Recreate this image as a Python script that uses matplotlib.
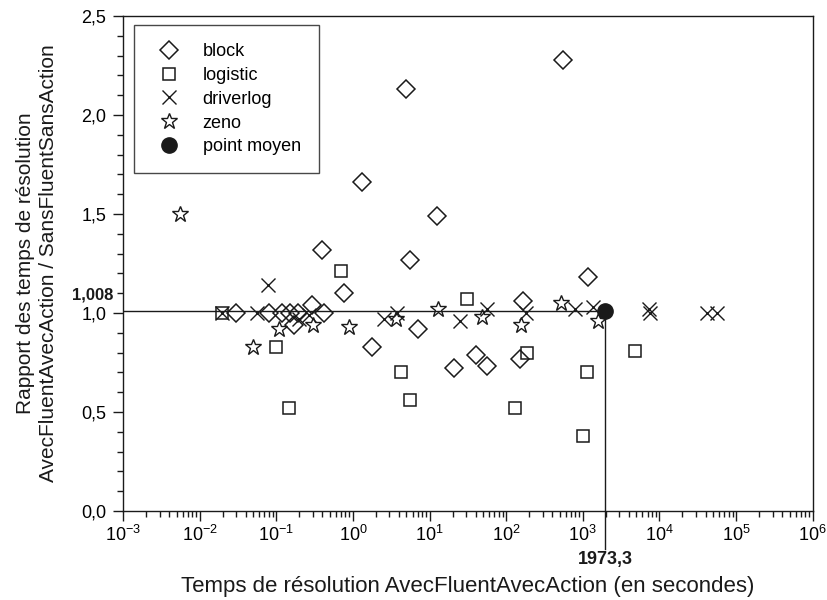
import numpy as np
import matplotlib
matplotlib.use("Agg")
import matplotlib.pyplot as plt
from matplotlib.ticker import MultipleLocator, FixedLocator, NullFormatter

plt.rcParams['font.family'] = ['Liberation Sans', 'DejaVu Sans']
narrow = ['Liberation Sans Narrow', 'Liberation Sans', 'DejaVu Sans']

# données
block_x = [0.030, 0.081, 0.12, 0.15, 0.19, 0.29, 0.42, 0.17, 0.77, 0.40, 1.33, 1.75,
           5.0, 5.5, 7.0, 12.7, 20.6, 41, 57, 150, 164, 548, 1160]
block_y = [1.0, 1.0, 1.0, 1.0, 1.0, 1.04, 1.0, 0.94, 1.10, 1.32, 1.66, 0.83,
           2.13, 1.27, 0.92, 1.49, 0.72, 0.79, 0.73, 0.77, 1.06, 2.28, 1.18]

logistic_x = [0.0197, 0.10, 0.148, 0.71, 4.2, 5.6, 31, 129, 185, 1000, 1130, 4790]
logistic_y = [1.0, 0.83, 0.52, 1.21, 0.70, 0.56, 1.07, 0.52, 0.80, 0.38, 0.70, 0.81]

driverlog_x = [0.0197, 0.056, 0.079, 0.20, 0.27, 2.58, 3.8, 25, 57, 180, 785, 1350,
               7300, 7500, 41800, 56500]
driverlog_y = [1.0, 1.0, 1.14, 0.97, 0.99, 0.97, 1.0, 0.96, 1.02, 1.0, 1.02, 1.03,
               1.02, 1.0, 1.0, 1.0]

zeno_x = [0.0056, 0.049, 0.109, 0.30, 0.90, 3.7, 13, 49, 155, 515, 1570]
zeno_y = [1.5, 0.83, 0.92, 0.94, 0.93, 0.97, 1.02, 0.98, 0.94, 1.05, 0.96]

moyen_x = 1973.3
moyen_y = 1.008

x_ticks = [1e-3, 1e-2, 1e-1, 1e0, 1e1, 1e2, 1e3, 1e4, 1e5, 1e6]
y_ticks = [0.0, 0.5, 1.0, 1.5, 2.0, 2.5]

col = '#1a1a1a'

fig = plt.figure(figsize=(8.27, 6.0), dpi=100)
ax = fig.add_axes([0.1487, 0.1483, 0.834, 0.825])

# lignes du point moyen (la verticale descend sous l'axe jusqu'à l'étiquette)
ax.plot([1e-3, moyen_x], [moyen_y, moyen_y], color=col, lw=1.0, zorder=2)
ax.plot([moyen_x, moyen_x], [moyen_y, -0.19], color=col, lw=1.0, zorder=2, clip_on=False)

ax.plot(block_x, block_y, ls='none', marker='D', ms=9, mfc='none', mec=col, mew=1.1, label='block', zorder=3)
ax.plot(logistic_x, logistic_y, ls='none', marker='s', ms=9, mfc='none', mec=col, mew=1.1, label='logistic', zorder=3)
ax.plot(driverlog_x, driverlog_y, ls='none', marker='x', ms=10, mec=col, mew=1.0, label='driverlog', zorder=3)
ax.plot(zeno_x, zeno_y, ls='none', marker='*', ms=12, mfc='none', mec=col, mew=1.0, label='zeno', zorder=3)
ax.plot([moyen_x], [moyen_y], ls='none', marker='o', ms=11, mfc=col, mec=col, label='point moyen', zorder=4)

ax.set_xscale('log')
ax.set_xlim(1e-3, 1e6)
ax.set_ylim(0, 2.5)

ax.set_xticks(x_ticks)
ax.set_xticklabels([r'$\mathregular{10^{%d}}$' % round(np.log10(v)) for v in x_ticks],
                   fontfamily=narrow, fontsize=13)
minors = [m * 10.0 ** e for e in range(-3, 6) for m in range(2, 10)]
ax.xaxis.set_minor_locator(FixedLocator(minors))
ax.xaxis.set_minor_formatter(NullFormatter())

ax.set_yticks(y_ticks)
ax.set_yticklabels([('%.1f' % v).replace('.', ',') for v in y_ticks], fontsize=13)
ax.yaxis.set_minor_locator(MultipleLocator(0.1))

ax.tick_params(which='major', direction='out', length=7, width=1.0, color=col)
ax.tick_params(which='minor', direction='out', length=4, width=1.0, color=col)
ax.tick_params(axis='x', which='major', pad=3)
ax.tick_params(axis='y', which='major', pad=5)
for s in ax.spines.values():
    s.set_linewidth(1.0)
    s.set_color(col)

ax.text(-0.0145, 1.09, '1,008', transform=ax.get_yaxis_transform(), ha='right', va='center',
        fontsize=12, fontweight='bold', color=col)
ax.text(moyen_x, -0.098, '1973,3', transform=ax.get_xaxis_transform(), ha='center', va='center',
        fontsize=13, fontweight='bold', fontfamily=narrow, color=col)

leg = ax.legend(loc='upper left', bbox_to_anchor=(0.016, 0.982), borderaxespad=0,
                numpoints=1, fontsize=13, frameon=True, fancybox=False,
                borderpad=1.0, handlelength=1.9, handletextpad=0.9, labelspacing=0.38)
leg.get_frame().set_edgecolor(col)
leg.get_frame().set_linewidth(1.0)

fig.text(0.566, 0.022, 'Temps de résolution AvecFluentAvecAction (en secondes)',
         ha='center', va='center', fontsize=16, fontfamily=narrow, color=col)
fig.text(0.045, 0.562, 'Rapport des temps de résolution\nAvecFluentAvecAction / SansFluentSansAction',
         ha='center', va='center', rotation=90, fontsize=15, linespacing=1.3, color=col)

fig.savefig('out.png', dpi=100)
